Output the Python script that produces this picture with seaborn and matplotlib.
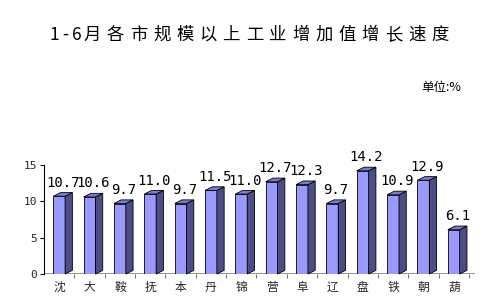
import matplotlib
matplotlib.use("Agg")
import matplotlib.pyplot as plt
import seaborn as sns
import pandas as pd
import numpy as np
from matplotlib.patches import Polygon

cities = ["沈", "大", "鞍", "抚", "本", "丹", "锦", "营", "阜", "辽", "盘", "铁", "朝", "葫"]
growth = [10.7, 10.6, 9.7, 11.0, 9.7, 11.5, 11.0, 12.7, 12.3, 9.7, 14.2, 10.9, 12.9, 6.1]
yticks = [0, 5, 10, 15]
title = "1-6月各市规模以上工业增加值增长速度"
unit = "单位:%"

sns.set_theme(style="white")
plt.rcParams['font.family'] = ['Noto Sans CJK SC', 'DejaVu Sans']

df = pd.DataFrame({"city": cities, "growth": growth})

fig = plt.figure(figsize=(5.03, 3.02), dpi=100)
W, H = 503, 302
ax = fig.add_axes([44 / W, 28 / H, (475 - 44) / W, (274 - 165) / H])

front = "#9999FF"
side = "#4D4D85"
top = "#7B7BD6"

sns.barplot(data=df, x="city", y="growth", ax=ax, color=front, width=0.39,
            saturation=1, edgecolor="black", linewidth=0.6)

ax.set_xlim(-0.5, 13.7)
ax.set_ylim(0, 15)
dx = 0.24
dy = 0.5
for p in ax.patches:
    x0 = p.get_x()
    w = p.get_width()
    h = p.get_height()
    x1 = x0 + w
    side_poly = Polygon([(x1, 0), (x1 + dx, dy), (x1 + dx, h + dy), (x1, h)],
                        closed=True, facecolor=side, edgecolor="black", linewidth=0.6,
                        clip_on=False, zorder=p.get_zorder())
    top_poly = Polygon([(x0, h), (x0 + dx, h + dy), (x1 + dx, h + dy), (x1, h)],
                       closed=True, facecolor=top, edgecolor="black", linewidth=0.6,
                       clip_on=False, zorder=p.get_zorder())
    ax.add_patch(side_poly)
    ax.add_patch(top_poly)
    ax.text(x0 + w / 2 + dx / 2, h + dy + 0.4, f"{h:.1f}", ha="center", va="bottom",
            fontsize=10, family=["DejaVu Sans Mono"], color="black")

ax.axhline(0, color="#7f7f7f", linewidth=1.2, zorder=0.5)

for s in ["top", "right", "bottom"]:
    ax.spines[s].set_visible(False)
ax.spines["left"].set_color("black")
ax.spines["left"].set_linewidth(0.8)

ax.set_yticks(yticks)
ax.set_yticklabels([str(t) for t in yticks], fontsize=8, family=["DejaVu Sans Mono"])
ax.tick_params(axis="y", left=True, length=3, width=0.8, pad=2, color="black")
ax.tick_params(axis="x", bottom=False, pad=-1, labelsize=8.5)
ax.set_xticks(np.arange(len(cities)))
ax.set_xticklabels(cities)
ax.set_xticks(np.arange(len(cities)) + 0.5, minor=True)
ax.tick_params(axis="x", which="minor", bottom=True, length=3, width=0.6, color="#555555")
ax.set_xlabel("")
ax.set_ylabel("")

# title, per-character spacing
x_pos = [54.5, 65, 76.5]
chars = list(title)
for i in range(3, len(chars)):
    x_pos.append(92 + (i - 3) * 23.2)
for c, xp in zip(chars, x_pos):
    fig.text(xp / W, 1 - 35 / H, c, ha="center", va="center", fontsize=12.5,
             color="black", family=["Noto Sans CJK SC", "DejaVu Sans"])

fig.text(441 / W, 1 - 88 / H, unit, ha="center", va="center", fontsize=9, color="black")

fig.savefig("out.png", dpi=100, facecolor="white")
